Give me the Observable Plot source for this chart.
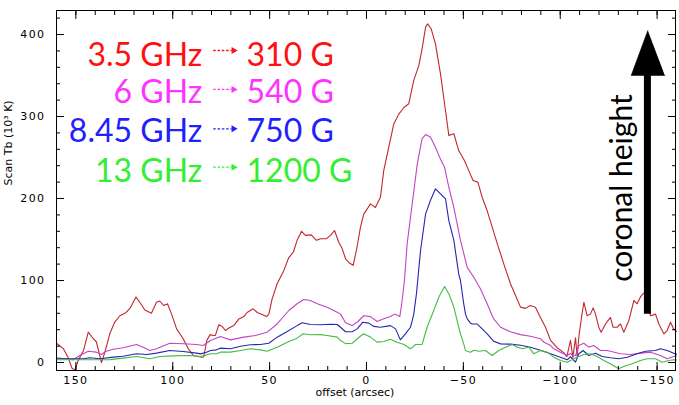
<!DOCTYPE html>
<html><head><meta charset="utf-8">
<script src="https://cdn.jsdelivr.net/npm/d3@7"></script>
<script src="https://cdn.jsdelivr.net/npm/@observablehq/plot@0.6"></script>
<style>
body{margin:0;background:#fff;}
#chart{width:679px;height:405px;}
g[aria-label="x-axis tick label"] text, g[aria-label="y-axis tick label"] text{letter-spacing:1.4px;}
</style></head><body><div id="chart"></div>
<script>
// ---- data (offset in arcsec, scan Tb in 10^3 K) ----
const off35 = [160,156.5,154,152,150.5,148.8,146,143.6,141,139.4,136.8,135,132.5,130,127.3,124,121.8,119,117,114.4,111,108.4,106.7,104.6,102.7,100.6,98,94.6,92,89.4,85,84,82.4,80.7,79,78,76.2,74.5,72.8,71,68.5,65.9,63.3,61.6,58.5,56.4,53.8,51.6,50.4,48.7,46.1,42.7,40.1,37.8,35.8,33.5,31.5,28.5,25.8,23.7,20.6,18.6,16.5,14.3,12.5,10.8,8.6,6.9,5.2,3.1,1.4,-0.3,-2,-4.6,-7.2,-8.9,-11.5,-14.1,-16.7,-19.3,-21.8,-24.4,-27,-28.7,-30.5,-31.6,-33.4,-35.6,-38.2,-40.8,-42.5,-45.1,-47.6,-50.6,-52.8,-55,-57.5,-59.7,-62.3,-64.9,-67.5,-70.9,-74.3,-76.9,-79.5,-82,-84.6,-87.2,-89.8,-92.4,-95,-98.4,-101.8,-103.4,-105.3,-106.5,-107.9,-108.7,-109.8,-111,-112.2,-113.9,-115.6,-117,-118.2,-119.9,-121.1,-123.4,-125.9,-127.3,-129.4,-131.1,-132.8,-135.4,-138,-139.7,-141.4,-142.8,-144,-146.6,-149.2,-150.9,-153.5,-155.2,-156.9,-158.6,-160];
const tb35  = [23.5,17,6,-7,-9,2.5,15,37,29,25,0,12.6,35,49,57,61,67,80,73.5,64,60,73.5,75,69.5,71.6,59,41,29,17,8.5,6.5,7,27,34,33,33,46,44,39,42,45,53,56,61,65.5,61,58.5,56,59,77.6,96,112,128,134.5,149,160,155,155.7,149,151,151,155,161,146.7,138.6,126.5,121,118.5,136.6,165,181,187,193.5,189,201.6,234,262.6,291,303,311,315.5,344,362,382.5,409,413,407,388.6,352,307,277,279,258.5,246,234,222,220,201.6,185,165,145,120,96,82,67.5,66,69.5,67.5,55,43,27,18,12,7,27,6,30,8,35,55,73.5,57,59,66.6,59,43,37,47,55,43,43,47,37,51,75.6,71.6,80,84,86,57,59,47,35,39,49,41,38];

const off6 = [160,151.4,148,143.6,139.4,136.8,134.7,130.7,125.6,118.7,115.3,111.8,108.4,101.5,94.6,87.7,84.3,80.5,75.4,70.2,63.3,57.3,51.3,46.1,40.1,35.8,32.4,28.9,25.4,20.3,15.1,13.4,10.8,7.4,4.4,1.4,-2,-5.5,-8.9,-12.4,-14.5,-17.2,-18.4,-19.6,-21,-23.6,-26.2,-28.7,-30.5,-33,-35.6,-38.2,-40.3,-42.5,-45.1,-46.8,-48.5,-49.4,-52,-55.4,-58.8,-62.3,-64.9,-65.7,-69.2,-74.3,-79.5,-84.6,-89.8,-91.5,-95,-96.7,-100.1,-101.8,-103.6,-105.3,-106.5,-107.9,-109.6,-112.2,-114.7,-117.3,-120.8,-124.2,-131.1,-136.3,-141.4,-146.6,-151.7,-155.2,-158.6,-160];
const tb6  = [5.7,3.3,8.5,13.8,12.6,9.8,13.4,16.2,17.9,22,18.7,14.6,16.7,23.5,22.8,22,20.7,26.8,31.7,27.6,30.9,33,37,47,63.4,71.6,76.8,75.6,71.6,67.5,61.3,59,48.5,45,50,57,56,50,53.3,56,59,56,75.6,100,145,193.5,242,273,278,275,262.6,248,238,214,189,169,149,140.6,116,104,90,71.6,57,53.3,43,37.5,34,32,29,25,20.7,16.7,12.6,10.6,8.5,11,8,8.5,20.7,23.5,18.7,20.7,14.6,14.6,10.6,9.8,11.4,12.6,8.5,4.5,7.3,8];

const off845 = [160,151.4,146,142.8,137.6,130.7,125.6,118.7,113.5,108.4,101.5,94.6,87.7,85.7,82.6,80.5,77.4,75.4,70.2,65,59.9,54.7,50.4,46.1,40.9,35.8,33.2,28.9,23.7,18.6,15.1,13.4,10.8,7.4,4.8,2,-1.2,-3.8,-7.2,-12.4,-15,-17.5,-20.1,-22.7,-23.6,-24.4,-25.8,-27.9,-30.5,-33,-35.6,-38.2,-40.8,-42.5,-45.1,-47.6,-48.5,-50.2,-51.1,-52,-53.7,-54.6,-57.1,-59.7,-61.4,-62.3,-65.7,-69.2,-74.3,-79.5,-84.6,-89.8,-95,-100.1,-103.6,-105.3,-107.9,-109.6,-111.8,-114.7,-118.2,-121.7,-126,-130.2,-134.6,-139.7,-144,-149.2,-151.7,-155.2,-158.6,-160];
const tb845  = [4.5,4.5,4.5,5.7,4.5,6.5,7.7,10.6,9.8,11.4,14.6,13.4,11.4,10.5,12.6,14.6,15.4,17.5,16.7,19.9,21.6,22,23.5,30.9,37.8,45,48.4,46.3,46,46.7,46.3,43,37.5,37.5,41,49,48,44,43,45,41,27.6,35,43,51,59,84,136.6,181,197.6,211.8,205.7,199.6,173,149,108,100,71.6,59,53.3,48,47,47,41,37,35,25.8,22.7,22.4,21.1,18.7,15,10.6,6.5,3.3,7,0.4,10.6,14.6,8.5,11.4,7.3,5.7,4.5,6.5,10.6,13.8,14.6,16.7,14.6,11.4,10];

const off13 = [160,151.4,142.8,137.6,132.5,125.6,118.7,111.8,106.7,99.8,91.2,85.7,84.3,80.5,77.4,75.4,70.2,65,59.9,54.7,51.3,46.1,40.9,35.8,32.7,28.9,23.7,20.3,15.1,13.4,10.8,7.4,4.8,1.5,-2,-5.5,-8.9,-12.4,-15.8,-19.3,-22.7,-25.3,-28.7,-31.3,-34.7,-37.3,-40.3,-42.5,-45.1,-47.6,-48.5,-50.2,-51.1,-52,-53.7,-55.4,-58,-61.4,-64.9,-68.3,-71.7,-75.2,-77.8,-80.4,-83.8,-86.3,-89.8,-93.3,-96.7,-100.1,-103.6,-105.3,-108.7,-112.2,-115.6,-119.1,-122.5,-125.9,-130.2,-132.8,-137.1,-141.4,-144.9,-149.2,-152.6,-156,-158.6,-160];
const tb13  = [3.3,3.3,3.3,3.3,3.5,5.3,7.3,4.5,7.3,8.1,8.5,7.3,8.1,10.6,10.6,12.6,12.6,14.6,16.7,15.4,13.8,18.7,24.8,29.7,35,33.8,34,33,30.9,26.8,23,23.5,28.9,35,31,24.8,25.6,28.4,24.8,22,16.7,22,22,43,63.4,79.6,92.7,83.8,67.5,43,35,22.8,14.6,13.8,12.6,15,13.8,14.6,8.5,14.6,18.7,22,18.7,16.7,18.7,10.6,14.6,12.6,6.5,2.4,0.4,2.4,6.5,9.8,10.6,7.3,2.4,-1.6,-7.7,-4.9,-1.6,2.4,4.5,4.5,0.4,2.4,3.3,3];

// ---- labels ----
const bandLabels  = ["3.5 GHz", "6 GHz", "8.45 GHz", "13 GHz"];
const fieldLabels = ["310 G", "540 G", "750 G", "1200 G"];
const xTickValues = [150, 100, 50, 0, -50, -100, -150];
const yTickValues = [0, 100, 200, 300, 400];
const xTitle = "offset (arcsec)";
const yTitle = "Scan Tb (10³ K)";
const heightLabel = "coronal height";

// ---- styling / layout ----
const lineColors = ["#c0282d", "#c443c4", "#2626b0", "#44bb44"];
const textColors = ["#ff1010", "#ff33ff", "#1f1fff", "#33ee33"];
const seriesList = [[off35, tb35], [off6, tb6], [off845, tb845], [off13, tb13]];
const rows = seriesList.flatMap(([xs, ys], k) => xs.map((x, i) => ({x, y: ys[i], k})));
const ann = bandLabels.map((b, i) => ({band: b, field: fieldLabels[i], i,
  yBase: [362.2, 316.2, 268.7, 219.9][i], yArrow: [380.5, 333, 285, 238.2][i]}));
const headTri = [{x: -145.2, y: 404.9}, {x: -136.6, y: 350}, {x: -154.0, y: 350}];

const xMinor = d3.range(-150, 151, 10);
const yMinor = d3.range(0, 421, 20);

const plot = Plot.plot({
  width: 679, height: 405,
  marginLeft: 56, marginRight: 4, marginTop: 10, marginBottom: 35,
  style: {fontFamily: "DejaVu Sans", background: "white", overflow: "visible"},
  x: {domain: [160, -159.5]},
  y: {domain: [-9.76, 429.3]},
  marks: [
    Plot.line(rows, {x: "x", y: "y", z: "k", stroke: d => lineColors[d.k], strokeWidth: 1.1}),
    // annotations
    Plot.text(ann, {x: 84.8, y: "yBase", text: "band", fill: d => textColors[d.i], textAnchor: "end", lineAnchor: "bottom", fontSize: 32, fontFamily: "Lato"}),
    Plot.text(ann, {x: 61.9, y: "yBase", text: "field", fill: d => textColors[d.i], textAnchor: "start", lineAnchor: "bottom", fontSize: 32, fontFamily: "Lato"}),
    Plot.link(ann, {x1: 79.1, x2: 69.6, y1: "yArrow", y2: "yArrow", stroke: d => textColors[d.i], strokeWidth: 1.3, strokeDasharray: "2.5,1.8"}),
    Plot.dot(ann, {x: 68.6, y: "yArrow", symbol: "triangle", rotate: 90, r: 2.6, fill: d => textColors[d.i], stroke: "none"}),
    // coronal height arrow
    Plot.link([0], {x1: -145, x2: -145, y1: 59.4, y2: 352, stroke: "black", strokeWidth: 7}),
    Plot.line(headTri, {x: "x", y: "y", fill: "black", stroke: "black", strokeWidth: 0.5}),
    Plot.text([heightLabel], {x: -137.1, y: 212.8, rotate: -90, textAnchor: "middle", lineAnchor: "bottom", fontSize: 30, fontFamily: "Lato", fill: "black"}),
    // frame + ticks
    Plot.frame({stroke: "black", strokeWidth: 1}),
    ...["bottom", "top"].flatMap(anchor => [
      Plot.axisX({anchor, ticks: xMinor, tickSize: -4, tickFormat: () => "", label: null}),
      Plot.axisX({anchor, ticks: xTickValues, tickSize: -8, tickFormat: () => "", label: null})
    ]),
    ...["left", "right"].flatMap(anchor => [
      Plot.axisY({anchor, ticks: yMinor, tickSize: -4, tickFormat: () => "", label: null}),
      Plot.axisY({anchor, ticks: yTickValues, tickSize: -8, tickFormat: () => "", label: null})
    ]),
    Plot.axisX({anchor: "bottom", ticks: xTickValues, tickSize: 0, tickPadding: 6, fontSize: 11, label: null}),
    Plot.axisY({anchor: "left", ticks: yTickValues, tickSize: 0, tickPadding: 11, fontSize: 11, label: null}),
    Plot.text([xTitle], {frameAnchor: "bottom", dx: -11, dy: 22, lineAnchor: "middle", fontSize: 11}),
    Plot.text([yTitle], {frameAnchor: "left", dx: -48, dy: -5, rotate: -90, lineAnchor: "middle", fontSize: 11})
  ]
});
document.getElementById("chart").appendChild(plot);
</script></body></html>
